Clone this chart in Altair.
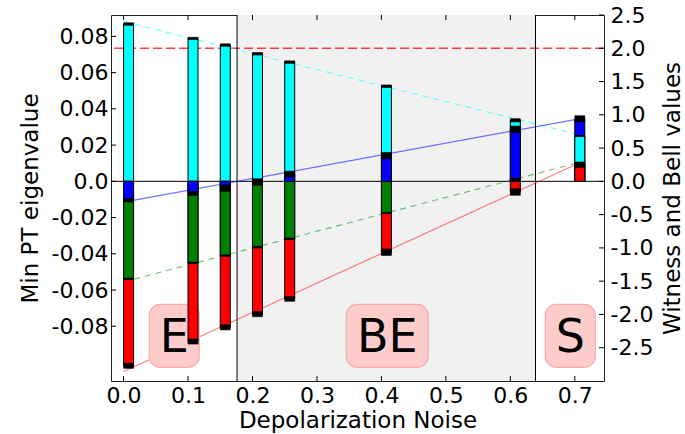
import altair as alt
import pandas as pd

# ---------------- data (left-axis units) ----------------
noise = [0.0, 0.1, 0.15, 0.2, 0.25, 0.4, 0.6, 0.7]
cyan_vals = [0.0868, 0.0789, 0.0752, 0.0704, 0.0658, 0.0525, 0.0337, 0.0250]
blue_vals = [-0.0105, -0.0067, -0.0037, -0.0004, 0.0040, 0.0142, 0.0287, 0.0345]
green_vals = [-0.0538, -0.0450, -0.0410, -0.0363, -0.0317, -0.0175, 0.0009, 0.0095]
red_vals = [-0.1018, -0.0884, -0.0806, -0.0733, -0.0649, -0.0391, -0.0059, 0.0082]

cyan_err = [0.0007, 0.0006, 0.0007, 0.0007, 0.0007, 0.0007, 0.0009, 0.0003]
blue_err = [0.0009, 0.0011, 0.0018, 0.0018, 0.0016, 0.0017, 0.0018, 0.0017]
green_err = [0.0004, 0.0004, 0.0004, 0.0005, 0.0004, 0.0004, 0.0009, 0.0012]
red_err = [0.0014, 0.0014, 0.0014, 0.0014, 0.0013, 0.0018, 0.0018, 0.0006]

# theory lines (end points at noise 0.0 and 0.7)
line_x = [0.0, 0.7]
cyan_line = [0.0882, 0.0263]
blue_line = [-0.0115, 0.0341]
green_line = [-0.0555, 0.0098]
red_line = [-0.1050, 0.0090]

bell_bound = [2.0]  # right axis units

region_bounds = [0.176, 0.639]
region_labels = ["E", "BE", "S"]
label_x = [0.0786, 0.409, 0.693]
label_y = [-0.085, -0.085, -0.085]

x_ticks = [0.0, 0.1, 0.2, 0.3, 0.4, 0.5, 0.6, 0.7]
left_ticks = [-0.08, -0.06, -0.04, -0.02, 0.0, 0.02, 0.04, 0.06, 0.08]
right_ticks = [-2.5, -2.0, -1.5, -1.0, -0.5, 0.0, 0.5, 1.0, 1.5, 2.0, 2.5]

series_names = ["cyan", "blue", "green", "red"]
series_colors = ["#00ffff", "#0000ff", "#008000", "#ff0000"]

# ---------------- layout / style ----------------
W, H = 493, 366
BAR_W = 0.0155
FONT = "DejaVu Sans"
TICK = 5

xs = alt.Scale(domain=[-0.0195, 0.7453], nice=False, zero=False)
ysl = alt.Scale(domain=[-0.1102, 0.0918], nice=False, zero=False)
ysr = alt.Scale(domain=[-3.0, 2.5], nice=False, zero=False)

XAX = alt.Axis(values=x_ticks, format=".1f", title="Depolarization Noise",
               orient="bottom", grid=False, ticks=False, tickSize=0, domain=False,
               labelPadding=4, titlePadding=3)
YL = alt.Axis(values=left_ticks, orient="left", title="Min PT eigenvalue",
              grid=False, ticks=False, tickSize=0, domain=False, labelPadding=3, titlePadding=9,
              labelExpr="datum.value == 0 ? '0.0' : (datum.value < 0 ? '-' : '') + format(abs(datum.value), '.2f')")
YR = alt.Axis(values=right_ticks, orient="right", title="Witness and Bell values",
              grid=False, ticks=False, tickSize=0, domain=False, labelPadding=6, titlePadding=9,
              titleAngle=270, titleBaseline="top",
              labelExpr="(datum.value < 0 ? '-' : '') + format(abs(datum.value), '.1f')")


def X(f):
    return alt.X(f, scale=xs, axis=XAX)


def YLf(f):
    return alt.Y(f, scale=ysl, axis=YL)


def YRf(f):
    return alt.Y(f, scale=ysr, axis=YR)


# ---------------- tables ----------------
vals = {"cyan": cyan_vals, "blue": blue_vals, "green": green_vals, "red": red_vals}
errs = {"cyan": cyan_err, "blue": blue_err, "green": green_err, "red": red_err}
rows = []
for s in series_names:
    for x, v, e in zip(noise, vals[s], errs[s]):
        rows.append({"series": s, "x": x, "x2": x + BAR_W, "v": v,
                     "zero": 0.0, "lo": v - e, "hi": v + e, "mag": abs(v)})
bars = pd.DataFrame(rows).sort_values("mag", ascending=False).reset_index(drop=True)

color_enc = alt.Color("series:N", scale=alt.Scale(domain=series_names, range=series_colors), legend=None)

# ---------------- right-scale group (drawn first: under bars) ----------------
shade = alt.Chart(pd.DataFrame({"a": [region_bounds[0]], "b": [region_bounds[1]]})).mark_rect(
    color="#f1f1f1").encode(x=X("a:Q"), x2="b:Q", y=alt.value(0), y2=alt.value(H))

bell = alt.Chart(pd.DataFrame({"b": bell_bound})).mark_rule(
    color="#ff0000", strokeDash=[9, 4], strokeWidth=1.3, opacity=0.75).encode(y=YRf("b:Q"))

right_tick_marks = alt.Chart(pd.DataFrame({"t": right_ticks})).mark_rule(color="black").encode(
    y=YRf("t:Q"), x=alt.value(W - TICK), x2=alt.value(W))

right_group = alt.layer(shade, bell, right_tick_marks)

# ---------------- left-scale group ----------------
vlines = alt.Chart(pd.DataFrame({"b": region_bounds})).mark_rule(color="black", strokeWidth=1).encode(
    x=X("b:Q"))

zero_line = alt.Chart(pd.DataFrame({"z": [0.0]})).mark_rule(color="black", strokeWidth=1).encode(
    y=YLf("z:Q"))

line_specs = [
    (cyan_line, "#00ffff", [6, 5], 0.55),
    (blue_line, "#0000ff", None, 0.55),
    (green_line, "#008000", [6, 5], 0.5),
    (red_line, "#ff0000", None, 0.5),
]
line_layers = []
for ys, col, dash, op in line_specs:
    df = pd.DataFrame({"x": line_x, "y": ys})
    kw = dict(color=col, strokeWidth=1.2, opacity=op)
    if dash:
        kw["strokeDash"] = dash
    line_layers.append(alt.Chart(df).mark_line(**kw).encode(x=X("x:Q"), y=YLf("y:Q")))

box_layers, text_layers = [], []
for lab, lx, ly in zip(region_labels, label_x, label_y):
    df = pd.DataFrame({"x": [lx], "y": [ly], "t": [lab]})
    hw = 9 + 16 * len(lab)
    box_layers.append(alt.Chart(df).mark_rect(
        fill="#ffcccc", stroke="#ffaaaa", strokeWidth=1.2, cornerRadius=11,
        xOffset=-hw, x2Offset=hw, yOffset=-31, y2Offset=32).encode(
        x=X("x:Q"), x2="x:Q", y=YLf("y:Q"), y2="y:Q"))
    text_layers.append(alt.Chart(df).mark_text(
        font=FONT, fontSize=46, color="black", align="center", baseline="alphabetic", dy=17).encode(
        x=X("x:Q"), y=YLf("y:Q"), text="t:N"))

bar_layer = alt.Chart(bars).mark_rect(stroke="black", strokeWidth=1).encode(
    x=X("x:Q"), x2="x2:Q", y=YLf("zero:Q"), y2="v:Q", color=color_enc)

caps = alt.Chart(bars).mark_rect(color="black", stroke="black", strokeWidth=0.6).encode(
    x=X("x:Q"), x2="x2:Q", y=YLf("lo:Q"), y2="hi:Q")

xt = pd.DataFrame({"t": x_ticks})
bottom_ticks = alt.Chart(xt).mark_rule(color="black").encode(
    x=X("t:Q"), y=alt.value(H - TICK), y2=alt.value(H))
top_ticks = alt.Chart(xt).mark_rule(color="black").encode(
    x=X("t:Q"), y=alt.value(0), y2=alt.value(TICK))
left_tick_marks = alt.Chart(pd.DataFrame({"t": left_ticks})).mark_rule(color="black").encode(
    y=YLf("t:Q"), x=alt.value(0), x2=alt.value(TICK))

left_group = alt.layer(vlines, zero_line, *line_layers, *box_layers, bar_layer, caps,
                       bottom_ticks, top_ticks, left_tick_marks, *text_layers)

chart = alt.layer(right_group, left_group).resolve_scale(y="independent").properties(
    width=W, height=H,
    padding={"left": 111, "top": 15, "right": 81, "bottom": 53},
    autosize=alt.AutoSizeParams(type="none"),
    background="white",
).configure_view(stroke="#222222", strokeWidth=1).configure_axis(
    labelFont=FONT, titleFont=FONT, labelFontSize=22, titleFontSize=23,
    labelColor="black", titleColor="black", titleFontWeight="normal")

chart.save("out.html", embed_options={"renderer": "svg", "actions": False})
